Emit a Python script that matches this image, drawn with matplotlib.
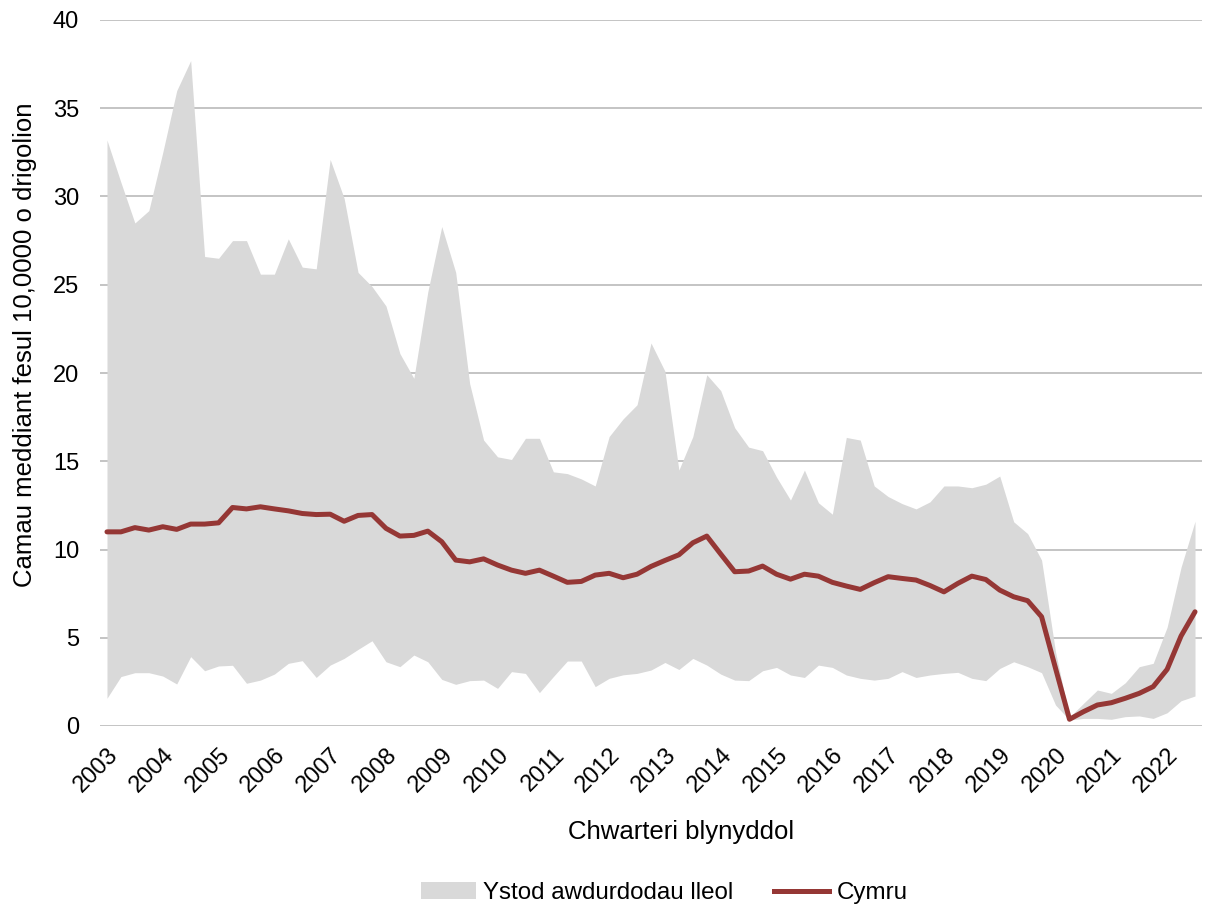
import matplotlib
matplotlib.use("Agg")
import matplotlib.pyplot as plt
import numpy as np
from matplotlib.patches import Patch
from matplotlib.lines import Line2D

plt.rcParams['font.family'] = ['Liberation Sans', 'DejaVu Sans']

years = [str(y) for y in range(2003, 2023)]

upper = [33.2, 30.8, 28.5, 29.2, 32.5, 36.0, 37.7, 26.6, 26.5, 27.5,
         27.5, 25.6, 25.6, 27.6, 26.0, 25.9, 32.1, 29.9, 25.7, 24.9,
         23.8, 21.1, 19.7, 24.6, 28.3, 25.7, 19.4, 16.2, 15.25, 15.1,
         16.3, 16.3, 14.4, 14.3, 14.0, 13.6, 16.4, 17.4, 18.2, 21.7,
         20.1, 14.5, 16.4, 19.9, 19.0, 16.9, 15.8, 15.6, 14.1, 12.8,
         14.5, 12.65, 12.0, 16.35, 16.2, 13.6, 13.0, 12.6, 12.3, 12.7,
         13.6, 13.6, 13.5, 13.7, 14.16, 11.57, 10.9, 9.4, 4.2, 0.5,
         1.28, 2.04, 1.85, 2.45, 3.36, 3.55, 5.6, 9.0, 11.6]

lower = [1.57, 2.8, 3.02, 3.02, 2.83, 2.38, 3.93, 3.13, 3.4, 3.44,
         2.42, 2.6, 2.94, 3.55, 3.7, 2.75, 3.45, 3.83, 4.34, 4.83,
         3.64, 3.36, 4.02, 3.64, 2.64, 2.36, 2.57, 2.6, 2.13, 3.08,
         2.98, 1.89, 2.8, 3.68, 3.68, 2.23, 2.7, 2.9, 2.98, 3.17,
         3.6, 3.2, 3.83, 3.45, 2.94, 2.6, 2.57, 3.13, 3.32, 2.89,
         2.75, 3.45, 3.32, 2.89, 2.7, 2.6, 2.7, 3.08, 2.75, 2.89,
         2.98, 3.04, 2.7, 2.57, 3.26, 3.64, 3.36, 3.02, 1.19, 0.34,
         0.43, 0.43, 0.38, 0.53, 0.57, 0.43, 0.75, 1.43, 1.7]

cymru = [11.0, 11.0, 11.24, 11.1, 11.29, 11.14, 11.44, 11.44, 11.51, 12.38,
         12.3, 12.42, 12.3, 12.19, 12.04, 11.98, 12.0, 11.6, 11.93, 11.98,
         11.2, 10.76, 10.8, 11.04, 10.44, 9.4, 9.3, 9.47, 9.12, 8.83,
         8.65, 8.83, 8.49, 8.14, 8.19, 8.55, 8.65, 8.4, 8.6, 9.04,
         9.38, 9.7, 10.38, 10.76, 9.74, 8.74, 8.78, 9.06, 8.6, 8.32,
         8.6, 8.49, 8.14, 7.93, 7.74, 8.12, 8.46, 8.36, 8.27, 7.96,
         7.6, 8.08, 8.49, 8.3, 7.7, 7.32, 7.1, 6.19, 3.27, 0.38,
         0.81, 1.19, 1.32, 1.57, 1.85, 2.23, 3.21, 5.1, 6.47]

x = np.arange(len(cymru))

fig = plt.figure(figsize=(12.08, 9.09), dpi=100)
ax = fig.add_axes([100/1208, 1 - 726/909, 1102/1208, 706/909])

ax.fill_between(x, lower, upper, color='#D9D9D9', linewidth=0, zorder=2)
ax.plot(x, cymru, color='#953735', linewidth=3.6, zorder=3, solid_capstyle='round')

ax.set_xlim(-0.5, len(cymru) - 0.5)
ax.set_ylim(0, 40)
ax.set_yticks(np.arange(0, 41, 5))
ax.yaxis.grid(True, color='#BFBFBF', linewidth=1.3, zorder=0)
ax.set_axisbelow(True)
for s in ax.spines.values():
    s.set_visible(False)

tick_pos = x[::4]
ax.set_xticks(tick_pos)
ax.set_xticklabels(years, rotation=45, ha='right', va='top', rotation_mode='anchor')
ax.tick_params(axis='both', length=0, labelsize=17, colors='black')
ax.tick_params(axis='x', pad=13)
ax.tick_params(axis='y', pad=15)

ax.set_ylabel('Camau meddiant fesul 10,0000 o drigolion', fontsize=18.5)
ax.yaxis.set_label_coords(-0.068, 0.54)
ax.set_xlabel('Chwarteri blynyddol', fontsize=18.5)
ax.xaxis.set_label_coords((681 - 100) / 1102, -(832 - 726) / 706)
ax.xaxis.label.set_va('center')
ax.yaxis.label.set_va('center')

handles = [Patch(facecolor='#D9D9D9', edgecolor='none', label='Ystod awdurdodau lleol'),
           Line2D([0], [0], color='#953735', linewidth=3.6, label='Cymru')]
fig.legend(handles=handles, loc='center', bbox_to_anchor=(664/1208, 1 - 893/909),
           ncol=2, frameon=False, fontsize=17.4, handlelength=2.3, handletextpad=0.3,
           columnspacing=1.65)

fig.savefig('out.png', dpi=100)
